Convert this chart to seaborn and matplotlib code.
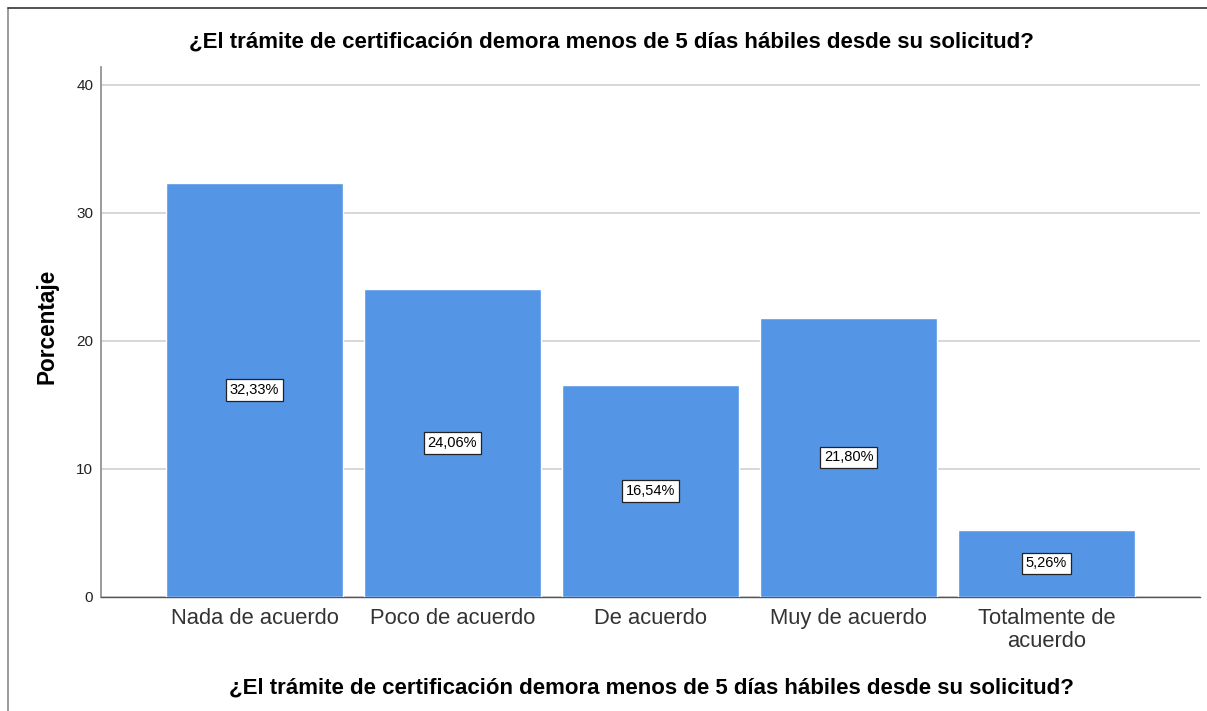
import matplotlib
matplotlib.use("Agg")
import matplotlib.pyplot as plt
import seaborn as sns
import pandas as pd
from matplotlib.lines import Line2D

categories = ["Nada de acuerdo", "Poco de acuerdo", "De acuerdo", "Muy de acuerdo", "Totalmente de\nacuerdo"]
values = [32.33, 24.06, 16.54, 21.80, 5.26]
yticks = [0, 10, 20, 30, 40]
title = "¿El trámite de certificación demora menos de 5 días hábiles desde su solicitud?"

sns.set_theme(style="white")
plt.rcParams["font.family"] = ["Liberation Sans", "DejaVu Sans"]

W, H = 1207, 711
fig = plt.figure(figsize=(W / 100, H / 100), dpi=100)
ax = fig.add_axes([101 / W, 1 - 597 / H, (1200 - 101) / W, (597 - 67) / H])

df = pd.DataFrame({"cat": categories, "val": values})
sns.barplot(data=df, x="cat", y="val", color="#5595E5", saturation=1, width=0.894, ax=ax, zorder=3)

ax.set_xlim(-0.775, 4.775)
ax.set_ylim(0, 41.4)
ax.set_yticks(yticks)
ax.yaxis.grid(True, color="#D4D4D4", linewidth=1.3, zorder=0)
ax.set_axisbelow(True)
ax.set_xlabel("")
ax.set_ylabel("")
ax.tick_params(axis="x", length=0, pad=8, labelsize=15.8, labelcolor="#333333")
ax.tick_params(axis="y", length=0, pad=5.5, labelsize=11, labelcolor="#222222")
for lbl in ax.get_xticklabels():
    lbl.set_linespacing(1.1)

for s in ["top", "right"]:
    ax.spines[s].set_visible(False)
ax.spines["left"].set_color("#8a8a8a")
ax.spines["left"].set_linewidth(1.2)
ax.spines["bottom"].set_color("#555555")
ax.spines["bottom"].set_linewidth(1.0)

for cont in ax.containers:
    ax.bar_label(cont, labels=[f"{v:.2f}".replace(".", ",") + "%" for v in values],
                 label_type="center", fontsize=10.5, color="black",
                 bbox=dict(boxstyle="square,pad=0.25", facecolor="white", edgecolor="#222222", linewidth=0.9))

fig.text(611 / W, 1 - 42 / H, title, ha="center", va="center", fontsize=16, fontweight="bold", color="black")
fig.text(651 / W, 1 - 688 / H, title, ha="center", va="center", fontsize=16, fontweight="bold", color="black")
fig.text(47 / W, 1 - 326 / H, "Porcentaje", ha="center", va="center", rotation=90, fontsize=16.3, fontweight="bold", color="black")

# outer frame
fig.add_artist(Line2D([8 / W, 8 / W], [0, 1 - 8 / H], transform=fig.transFigure, color="#8a8a8a", linewidth=1.2))
fig.add_artist(Line2D([8 / W, 1], [1 - 8 / H, 1 - 8 / H], transform=fig.transFigure, color="#333333", linewidth=1.2))

fig.savefig("out.png", dpi=100)
